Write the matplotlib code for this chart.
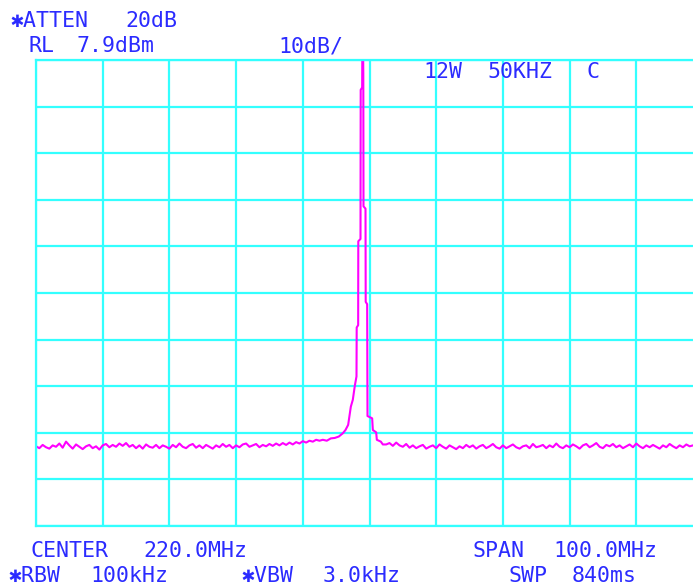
import matplotlib
matplotlib.use("Agg")
import matplotlib.pyplot as plt
import numpy as np

# instrument settings
ref_level = 7.9          # dBm, top graticule line
db_per_div = 10
center_mhz = 220.0
span_mhz = 100.0

# noise floor left of the carrier, 170.0 .. 212.5 MHz every 0.5 MHz (dBm)
noise_left_start = 170.0
noise_left = [
    -75.0, -75.4, -74.7, -75.2, -75.5, -74.8, -75.1, -74.4, -75.3, -74.0,
    -74.8, -75.5, -74.6, -75.1, -75.6, -75.0, -74.7, -75.4, -75.0, -75.7,
    -74.8, -74.5, -75.2, -74.7, -75.1, -74.4, -74.9, -74.3, -75.1, -74.7,
    -75.4, -74.8, -75.5, -74.6, -75.1, -75.3, -74.7, -75.4, -74.8, -75.1,
    -75.5, -74.7, -75.2, -74.4, -75.1, -75.4, -74.8, -74.5, -75.3, -74.8,
    -75.4, -74.7, -75.1, -75.5, -74.8, -75.2, -74.5, -75.1, -74.7, -75.4,
    -74.8, -75.2, -74.6, -74.4, -75.1, -74.8, -74.5, -75.2, -74.7, -75.0,
    -74.5, -74.9, -74.4, -74.8, -74.3, -74.7, -74.2, -74.6, -74.1, -74.4,
    -73.9, -74.2, -73.8, -74.0, -73.6, -73.8,
]

# carrier skirt and spike (MHz, dBm)
peak_freq = [213.0, 213.6, 214.2, 214.8, 215.4, 216.0, 216.4, 216.8, 217.0,
             217.2, 217.5, 217.8, 218.05, 218.08, 218.3, 218.32, 218.65,
             218.68, 218.9, 218.92, 219.05, 219.07, 219.1, 219.4, 219.43,
             219.65, 219.7, 220.4, 220.5, 221.0, 221.1, 221.7, 222.0]
peak_level = [-73.6, -73.8, -73.3, -73.2, -72.9, -72.2, -71.5, -70.4, -68.5,
              -66.5, -65.0, -62.0, -60.0, -49.5, -49.0, -31.0, -30.5,
              1.5, 2.0, 8.2, 8.2, 5.0, -23.5, -24.0, -44.0,
              -44.5, -68.5, -69.0, -71.5, -72.0, -73.6, -74.0, -74.6]

# noise floor right of the carrier, 222.5 .. 268.5 MHz every 0.5 MHz (dBm)
noise_right_start = 222.5
noise_right = [
    -74.6, -74.3, -74.9, -74.2, -74.8, -75.1, -74.5, -75.3, -74.8, -75.4,
    -75.0, -74.7, -75.5, -75.1, -74.8, -75.4, -74.6, -75.1, -75.5, -74.8,
    -75.2, -75.6, -75.0, -75.4, -74.7, -75.2, -74.8, -75.5, -75.0, -74.7,
    -75.4, -75.0, -74.5, -75.2, -75.5, -74.8, -75.4, -75.0, -74.6, -75.2,
    -75.5, -75.0, -74.8, -75.4, -74.5, -75.2, -75.0, -74.7, -75.4, -74.8,
    -75.2, -74.4, -75.1, -75.4, -74.8, -75.2, -74.6, -75.0, -75.5, -74.8,
    -74.5, -75.2, -74.8, -74.3, -75.1, -75.4, -74.7, -75.0, -74.5, -75.2,
    -74.8, -75.4, -75.0, -74.6, -75.2, -74.4, -75.0, -75.4, -74.8, -75.2,
    -74.7, -75.1, -75.5, -74.8, -75.2, -74.5, -75.0, -75.4, -74.8, -75.2,
    -74.6, -75.0, -74.8,
]
noise_step = 0.5

f_left = noise_left_start + noise_step * np.arange(len(noise_left))
f_right = noise_right_start + noise_step * np.arange(len(noise_right))
freq = np.concatenate([f_left, peak_freq, f_right])
level = np.concatenate([noise_left, peak_level, noise_right])

CYAN = "#33ffff"
BLUE = "#2b2bff"
MAGENTA = "#ff00ff"
W, H = 693, 588

fig = plt.figure(figsize=(W / 100, H / 100), dpi=100)
fig.patch.set_facecolor("white")
ax = fig.add_axes([36 / W, 1 - 526 / H, 667 / W, 466 / H])

lo, hi = center_mhz - span_mhz / 2, center_mhz + span_mhz / 2
bottom = ref_level - 10 * db_per_div
ax.set_xlim(lo, hi)
ax.set_ylim(bottom, ref_level)
ax.set_xticks(np.arange(lo, hi + 0.1, span_mhz / 10))
ax.set_yticks(np.arange(bottom, ref_level + 0.1, db_per_div))
ax.tick_params(length=0, labelbottom=False, labelleft=False)
ax.grid(True, color=CYAN, lw=1.6)
ax.set_axisbelow(True)
for s in ax.spines.values():
    s.set_color(CYAN)
    s.set_linewidth(1.6)

ax.plot(freq, level, color=MAGENTA, lw=1.5)

fam = ["DejaVu Sans Mono", "DejaVu Sans"]


def label(x, y, s):
    fig.text(x / W, 1 - y / H, s, color=BLUE, fontsize=15.5, family=fam,
             va="baseline", ha="left")


# (left x px, baseline y px, word)
label(10, 27, "✱ATTEN")
label(125, 27, "20dB")
label(28, 52, "RL")
label(77, 52, "7.9dBm")
label(278, 52, "10dB/")
label(423, 78, "12W")
label(487, 78, "50KHZ")
label(587, 78, "C")
label(30, 557, "CENTER")
label(143, 557, "220.0MHz")
label(472, 557, "SPAN")
label(553, 557, "100.0MHz")
label(8, 582, "✱RBW")
label(90, 582, "100kHz")
label(241, 582, "✱VBW")
label(323, 582, "3.0kHz")
label(508, 582, "SWP")
label(572, 582, "840ms")

fig.savefig("out.png", dpi=100)
